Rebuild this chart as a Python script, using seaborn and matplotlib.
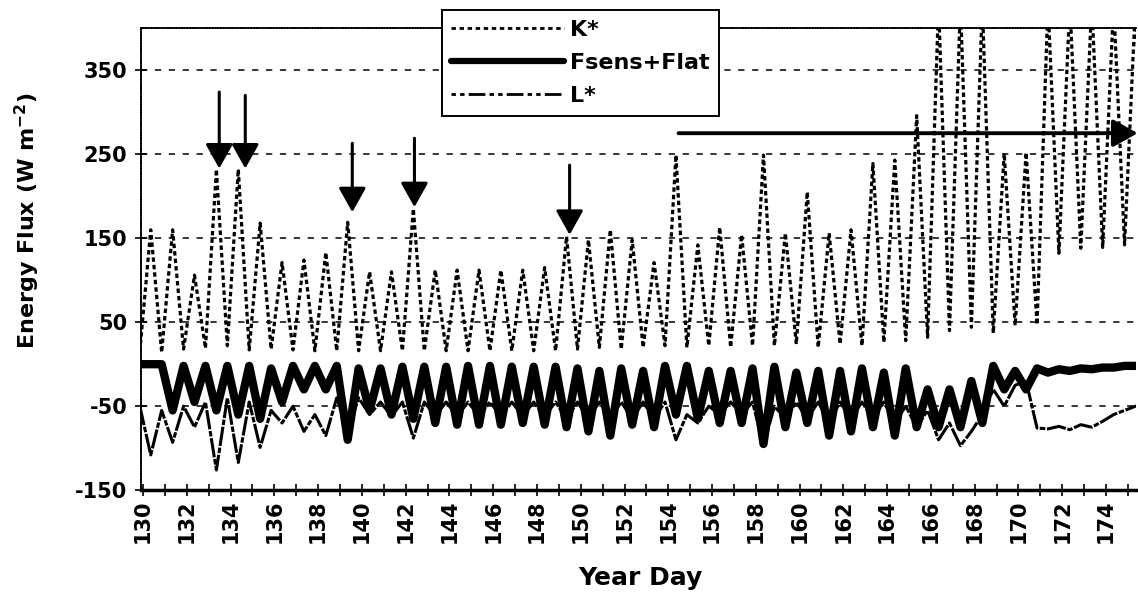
import numpy as np
import pandas as pd
import matplotlib
matplotlib.use("Agg")
import matplotlib.pyplot as plt
import seaborn as sns
from matplotlib.lines import Line2D
from matplotlib.ticker import MultipleLocator

# ---------------- data ----------------
days = list(range(130, 176))

# K* : daytime peak and following night minimum (W m-2)
kstar_day = [160, 160, 106, 232, 232, 168, 121, 124, 133, 169,
             110, 110, 185, 112, 112, 112, 112, 112, 115, 152,
             148, 160, 148, 121, 249, 142, 163, 154, 249, 156,
             205, 156, 160, 239, 243, 296, 430, 430, 430, 251,
             252, 430, 430, 430, 430, 430]
kstar_night = [14, 18, 19, 22, 17, 18, 17, 16, 16, 16,
               16, 16, 16, 16, 16, 16, 16, 16, 16, 18,
               20, 18, 20, 22, 20, 22, 20, 22, 22, 24,
               20, 24, 22, 26, 28, 32, 40, 44, 37, 46,
               47, 132, 138, 139, 142, 140]

# Fsens+Flat : daytime minimum and night maximum
flux_day = [0, -55, -45, -55, -60, -65, -45, -30, -30, -90,
            -55, -60, -65, -70, -72, -72, -72, -70, -72, -75,
            -80, -85, -72, -75, -60, -65, -70, -70, -95, -75,
            -70, -85, -80, -75, -85, -75, -75, -75, -70, -30,
            -30, -10, -8, -6, -4, -2]
flux_night = [0, -2, -2, -2, -2, -5, -2, -2, -2, -5,
              -5, -3, -3, -3, -2, -2, -3, -3, -3, -5,
              -8, -5, -8, -2, -2, -8, -8, -5, -3, -10,
              -8, -8, -5, -10, -5, -30, -30, -20, -2, -8,
              -5, -6, -5, -4, -2, -2]

# L* : daytime minimum and night value
lstar_day = [-108, -93, -75, -126, -117, -99, -70, -80, -85, -80,
             -60, -62, -88, -62, -62, -62, -62, -62, -62, -65,
             -65, -65, -65, -65, -90, -70, -60, -60, -97, -65,
             -65, -70, -65, -65, -70, -75, -90, -97, -60, -50,
             -20, -77, -78, -75, -60, -50]
lstar_night = [-55, -50, -45, -40, -45, -55, -50, -60, -40, -40,
               -45, -45, -45, -45, -45, -45, -45, -45, -45, -45,
               -45, -45, -45, -45, -60, -50, -45, -45, -50, -45,
               -45, -45, -45, -45, -50, -55, -70, -80, -30, -25,
               -76, -74, -72, -68, -55, -48]

start_day = 129.85
kstar_start, flux_start, lstar_start = 15, 0, -50

# annotation arrows
arrow_days = [133.48, 134.67, 139.56, 142.4, 149.49]
arrow_top = [324, 320, 263, 269, 237]
arrow_tip = [233, 233, 181, 187, 154]
harrow_start = (154.47, 275)
harrow_end = (175.45, 275)

series_names = ["K*", "Fsens+Flat", "L*"]
y_ticks = [-150, -50, 50, 150, 250, 350]


def build(day_vals, night_vals, start):
    t = [start_day]
    v = [start]
    for d, a, b in zip(days, day_vals, night_vals):
        t += [d + 0.35, d + 0.85]
        v += [a, b]
    return pd.DataFrame({"Year Day": t, "Flux": v})


df_k = build(kstar_day, kstar_night, kstar_start)
df_f = build(flux_day, flux_night, flux_start)
df_l = build(lstar_day, lstar_night, lstar_start)

# ---------------- style ----------------
sns.set_theme(style="white")
plt.rcParams["font.family"] = ["DejaVu Sans"]
plt.rcParams["font.weight"] = "bold"
plt.rcParams["mathtext.default"] = "bf"
plt.rcParams["lines.scale_dashes"] = False
for key in ["text.color", "axes.labelcolor", "xtick.color", "ytick.color",
            "axes.edgecolor"]:
    plt.rcParams[key] = "black"

fig = plt.figure(figsize=(11.38, 6.0), dpi=100)
ax = fig.add_axes([0.124, 0.183, 0.874, 0.770])

ax.set_xlim(129.91, 175.36)
ax.set_ylim(-150, 400)

# grid
for yv in y_ticks[1:]:
    ax.axhline(yv, color="black", lw=1.1, linestyle=(0, (4.5, 5.5)), zorder=1)

sns.lineplot(data=df_f, x="Year Day", y="Flux", ax=ax, color="black",
             lw=6.0, solid_joinstyle="round", solid_capstyle="round", zorder=3)
sns.lineplot(data=df_l, x="Year Day", y="Flux", ax=ax, color="black",
             lw=2.2, linestyle=(0, (14, 1.2, 4, 1.2)), zorder=4)
sns.lineplot(data=df_k, x="Year Day", y="Flux", ax=ax, color="black",
             lw=2.3, linestyle=(0, (3.2, 2.2)), zorder=5)

# arrows
for xd, yt, yh in zip(arrow_days, arrow_top, arrow_tip):
    ax.annotate("", xy=(xd, yh), xytext=(xd, yt),
                arrowprops=dict(arrowstyle="-|>,head_length=0.75,head_width=0.42",
                                mutation_scale=20, lw=2.2, color="black",
                                shrinkA=0, shrinkB=0),
                zorder=6)
ax.annotate("", xy=harrow_end, xytext=harrow_start,
            arrowprops=dict(arrowstyle="-|>,head_length=0.75,head_width=0.42",
                            mutation_scale=20, lw=2.8, color="black",
                            shrinkA=0, shrinkB=0),
            annotation_clip=False, zorder=6)

# axes styling
ax.spines["right"].set_visible(False)
ax.spines["top"].set_linestyle((0, (1, 1)))
ax.spines["top"].set_linewidth(1.3)
ax.spines["left"].set_linestyle((0, (1, 1)))
ax.spines["left"].set_linewidth(1.3)
ax.spines["bottom"].set_linewidth(2.5)

ax.set_yticks(y_ticks)
ax.set_yticklabels([str(v) for v in y_ticks])
ax.xaxis.set_major_locator(MultipleLocator(2))
ax.xaxis.set_minor_locator(MultipleLocator(1))
ax.tick_params(axis="x", which="both", direction="inout", length=9, width=1.2,
               color="black", bottom=True)
ax.tick_params(axis="y", direction="inout", length=8, width=1.2, color="black",
               left=True, pad=6)
for lab in ax.get_xticklabels():
    lab.set_rotation(90)
ax.tick_params(axis="x", labelsize=15, pad=2, labelcolor="black")
ax.tick_params(axis="y", labelsize=15, labelcolor="black")
for lab in ax.get_xticklabels() + ax.get_yticklabels():
    lab.set_fontweight("bold")

ax.set_xlabel("Year Day", fontsize=18, fontweight="bold", color="black")
ax.set_ylabel("Energy Flux (W m$^{-2}$)", fontsize=16, fontweight="bold",
              color="black")
ax.xaxis.set_label_coords(0.502, -0.163)
ax.yaxis.set_label_coords(-0.100, 0.584)

# legend
handles = [
    Line2D([], [], color="black", lw=2.0, linestyle=(0, (3.2, 2.6))),
    Line2D([], [], color="black", lw=4.5),
    Line2D([], [], color="black", lw=2.0, linestyle=(0, (3.2, 3, 3.2, 3, 12, 3))),
]
leg = fig.legend(handles, series_names, loc="upper left",
                 bbox_to_anchor=(0.388, 0.983), frameon=True, fancybox=False,
                 edgecolor="black", framealpha=1, handlelength=5.1,
                 handletextpad=0.25, borderpad=0.42, labelspacing=0.6,
                 borderaxespad=0, prop={"weight": "bold", "size": 16})
leg.get_frame().set_linewidth(1.4)
for txt in leg.get_texts():
    txt.set_color("black")
leg.set_zorder(10)

fig.savefig("out.png", dpi=100)
